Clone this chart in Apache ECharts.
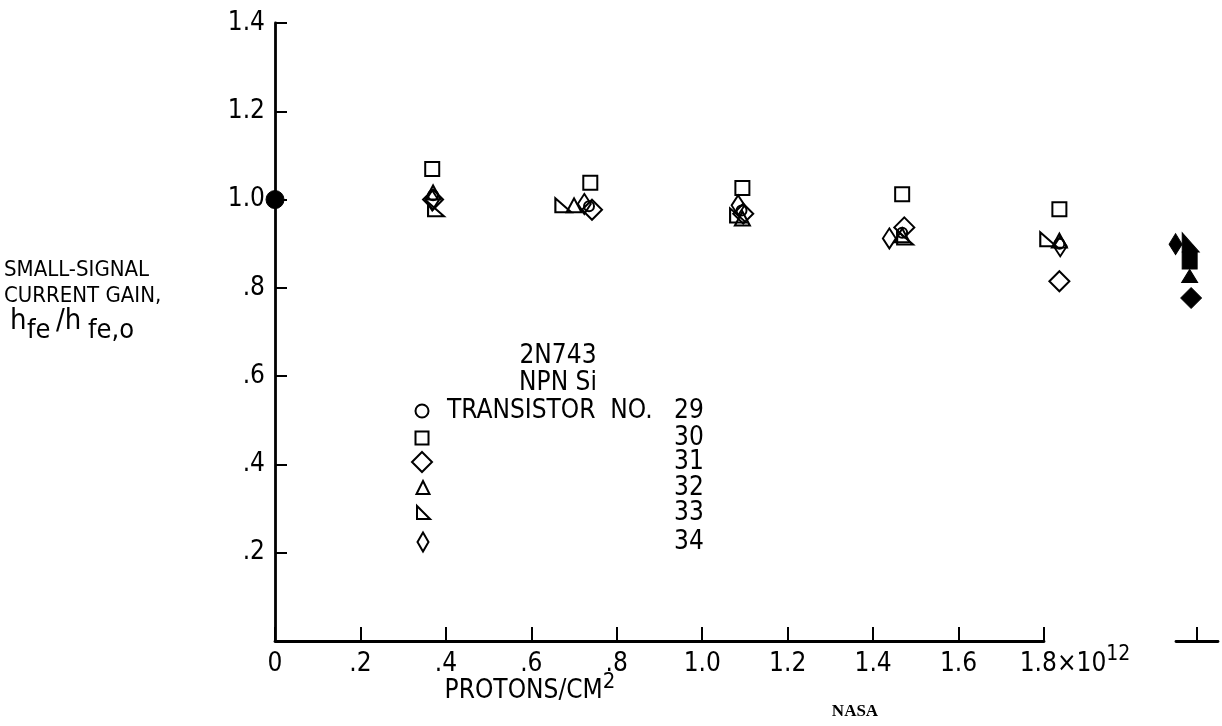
<!DOCTYPE html>
<html>
<head>
<meta charset="utf-8">
<script src="https://cdn.jsdelivr.net/npm/echarts@6/dist/echarts.min.js"></script>
<style>
html,body{margin:0;padding:0;background:#fff;}
#chart{width:1222px;height:726px;}
</style>
</head>
<body>
<div id="chart"></div>
<script>
// ---- data ----
const xTickLabels = ['0', '.2', '.4', '.6', '.8', '1.0', '1.2', '1.4', '1.6', '1.8'];
const yTickLabels = ['', '.2', '.4', '.6', '.8', '1.0', '1.2', '1.4'];

// initial normalised point (all transistors)
const initialPoint = [[0, 1.0]];

// open symbols: [fluence (1e12 protons/cm2), hfe/hfe,o]
const no29 = [[0.370, 1.010], [0.735, 0.985], [1.092, 0.975], [1.468, 0.925], [1.836, 0.900]];
const no30 = [[0.368, 1.069], [0.738, 1.038], [1.094, 1.026], [1.468, 1.012], [1.836, 0.978]];
const no31 = [[0.370, 1.000], [0.742, 0.977], [1.096, 0.968], [1.473, 0.937], [1.836, 0.815]];
const no32 = [[0.370, 1.016], [0.700, 0.987], [1.094, 0.957], [1.468, 0.919], [1.836, 0.907]];
const no33 = [[0.377, 0.978], [0.675, 0.987], [1.084, 0.964], [1.475, 0.914], [1.810, 0.910]];
const no34 = [[0.368, 0.998], [0.724, 0.990], [1.084, 0.987], [1.438, 0.912], [1.838, 0.894]];

// filled symbols at the separate point right of the axis break (relative position, value)
const filled29 = [[-0.35, 0.870]];
const filled30 = [[-0.35, 0.862]];
const filled31 = [[-0.28, 0.777]];
const filled32 = [[-0.35, 0.827]];
const filled33 = [[-0.30, 0.903]];
const filled34 = [[-1.02, 0.899]];

const legendEntries = ['29', '30', '31', '32', '33', '34'];

// ---- styling ----
const FONT = "'Liberation Sans Narrow', 'DejaVu Sans Condensed', 'DejaVu Sans', sans-serif";
const RT = 'path://M0,0L0,10L10,10Z';
const openStyle = {color: 'rgba(0,0,0,0)', borderColor: '#000', borderWidth: 2, opacity: 1};
const fillStyle = {color: '#000', borderColor: '#000', borderWidth: 1, opacity: 1};

const shapes = {
  '29': {symbol: 'circle', size: 10},
  '30': {symbol: 'rect', size: 14},
  '31': {symbol: 'diamond', size: [20, 20]},
  '32': {symbol: 'triangle', size: [15, 14]},
  '33': {symbol: RT, size: [16, 14]},
  '34': {symbol: 'diamond', size: [13, 20]}
};

function openSeries(name, data) {
  return {
    name: 'No. ' + name, type: 'scatter', xAxisIndex: 0, yAxisIndex: 0,
    data: data, symbol: shapes[name].symbol, symbolSize: shapes[name].size,
    itemStyle: openStyle, clip: false, silent: true, z: 5
  };
}
function filledSeries(name, data, size) {
  return {
    name: 'No. ' + name + ' (filled)', type: 'scatter', xAxisIndex: 1, yAxisIndex: 1,
    data: data, symbol: shapes[name].symbol, symbolSize: size || shapes[name].size,
    itemStyle: fillStyle, clip: false, silent: true, z: 5
  };
}

const chart = echarts.init(document.getElementById('chart'));

const axisLineStyle = {color: '#000', width: 2.8};

// legend graphics
const LX = 422, LY0 = 411, LDY = [0, 27, 51, 77, 102, 131];
const legendGraphics = [];
function poly(points, cx, cy) {
  return {type: 'polygon', x: cx, y: cy, shape: {points: points},
    style: {fill: 'none', stroke: '#000', lineWidth: 2}};
}
legendGraphics.push({type: 'circle', x: LX, y: LY0 + LDY[0], shape: {r: 6.5}, style: {fill: 'none', stroke: '#000', lineWidth: 2}});
legendGraphics.push({type: 'rect', x: LX - 6.5, y: LY0 + LDY[1] - 6.5, shape: {width: 13, height: 13}, style: {fill: 'none', stroke: '#000', lineWidth: 2}});
legendGraphics.push(poly([[0, -10], [10, 0], [0, 10], [-10, 0]], LX, LY0 + LDY[2]));
legendGraphics.push(poly([[0, -7], [6.5, 6], [-6.5, 6]], LX + 1, LY0 + LDY[3]));
legendGraphics.push(poly([[-6, -7], [-6, 6], [7, 6]], LX + 1, LY0 + LDY[4]));
legendGraphics.push(poly([[0, -9.5], [5.5, 0], [0, 9.5], [-5.5, 0]], LX + 1, LY0 + LDY[5]));
legendEntries.forEach(function (n, i) {
  legendGraphics.push({type: 'text', x: 674, y: LY0 + LDY[i],
    style: {text: n, font: '26px ' + FONT, fill: '#000', textVerticalAlign: 'middle', textAlign: 'left'}});
});
legendGraphics.push({type: 'text', x: 447, y: LY0,
  style: {text: 'TRANSISTOR  NO.', font: '26px ' + FONT, fill: '#000', textVerticalAlign: 'middle', textAlign: 'left'}});
legendGraphics.push({type: 'text', x: 558, y: 356,
  style: {text: '2N743', font: '26px ' + FONT, fill: '#000', textVerticalAlign: 'middle', textAlign: 'center'}});
legendGraphics.push({type: 'text', x: 558, y: 383,
  style: {text: 'NPN Si', font: '26px ' + FONT, fill: '#000', textVerticalAlign: 'middle', textAlign: 'center'}});

// axis titles
function txt(s, x, y, size, align) {
  return {type: 'text', x: x, y: y, style: {text: s, font: size + 'px ' + FONT, fill: '#000',
    textVerticalAlign: 'middle', textAlign: align || 'left'}};
}
const titleGraphics = [
  txt('SMALL-SIGNAL', 4, 270, 22),
  txt('CURRENT GAIN,', 4, 296, 22),
  txt('h', 10, 321, 29),
  txt('fe', 27, 331, 27),
  txt('/h', 56, 321, 29),
  txt('fe,o', 88, 331, 27),
  {type: 'text', x: 530, y: 691, style: {
    text: '{n|PROTONS/CM}{s|2}', fill: '#000', textAlign: 'center', textVerticalAlign: 'middle',
    rich: {
      n: {fontSize: 26, fontFamily: FONT, lineHeight: 26, verticalAlign: 'bottom'},
      s: {fontSize: 22, fontFamily: FONT, lineHeight: 22, verticalAlign: 'bottom', padding: [0, 0, 11, 0]}
    }}},
  {type: 'text', x: 855, y: 712, style: {text: 'NASA', font: 'bold 17px "Liberation Serif", "DejaVu Serif", serif', fill: '#000', textAlign: 'center', textVerticalAlign: 'middle'}}
];

const option = {
  backgroundColor: '#fff',
  animation: false,
  grid: [
    {left: 275, right: 178, top: 23, bottom: 85},
    {left: 1176, right: 4, top: 23, bottom: 85}
  ],
  xAxis: [
    {
      type: 'value', gridIndex: 0, min: 0, max: 1.8, interval: 0.2,
      axisLine: {show: true, lineStyle: axisLineStyle},
      axisTick: {show: true, inside: true, length: 14, lineStyle: {color: '#000', width: 2}},
      splitLine: {show: false},
      axisLabel: {
        show: true, margin: 10, color: '#000', fontSize: 26, fontFamily: FONT,
        showMinLabel: true, showMaxLabel: true,
        formatter: function (v) {
          const i = Math.round(v / 0.2);
          if (i === xTickLabels.length - 1) {
            return '{p|}{n|' + xTickLabels[i] + '}{n|×10}{s|12}';
          }
          return '{n|' + xTickLabels[i] + '}';
        },
        rich: {
          p: {width: 62},
          n: {fontSize: 26, fontFamily: FONT, lineHeight: 26, verticalAlign: 'bottom', color: '#000'},
          s: {fontSize: 21, fontFamily: FONT, lineHeight: 21, verticalAlign: 'bottom', padding: [0, 0, 12, 0], color: '#000'}
        }
      }
    },
    {
      type: 'value', gridIndex: 1, min: -1, max: 1,
      axisLine: {show: true, lineStyle: axisLineStyle},
      axisTick: {show: true, inside: true, length: 14, customValues: [0], lineStyle: {color: '#000', width: 2}},
      axisLabel: {show: false},
      splitLine: {show: false}
    }
  ],
  yAxis: [
    {
      type: 'value', gridIndex: 0, min: 0, max: 1.4, interval: 0.2,
      axisLine: {show: true, lineStyle: axisLineStyle},
      axisTick: {show: true, inside: true, length: 12, lineStyle: {color: '#000', width: 2}},
      splitLine: {show: false},
      axisLabel: {
        show: true, margin: 10, color: '#000', fontSize: 26, fontFamily: FONT,
        formatter: function (v) { return yTickLabels[Math.round(v / 0.2)]; }
      }
    },
    {
      type: 'value', gridIndex: 1, min: 0, max: 1.4, interval: 0.2,
      axisLine: {show: false}, axisTick: {show: false}, axisLabel: {show: false}, splitLine: {show: false}
    }
  ],
  graphic: legendGraphics.concat(titleGraphics),
  series: [
    {name: 'initial', type: 'scatter', xAxisIndex: 0, yAxisIndex: 0, data: initialPoint,
      symbol: 'circle', symbolSize: 18, itemStyle: fillStyle, clip: false, silent: true, z: 6},
    openSeries('29', no29),
    openSeries('30', no30),
    openSeries('31', no31),
    openSeries('32', no32),
    openSeries('33', no33),
    openSeries('34', no34),
    filledSeries('29', filled29, 12),
    filledSeries('30', filled30, [15, 17]),
    filledSeries('31', filled31, [21, 21]),
    filledSeries('32', filled32, [16, 13]),
    filledSeries('33', filled33, [17, 19]),
    filledSeries('34', filled34, [13, 21])
  ]
};
chart.setOption(option);
</script>
</body>
</html>
